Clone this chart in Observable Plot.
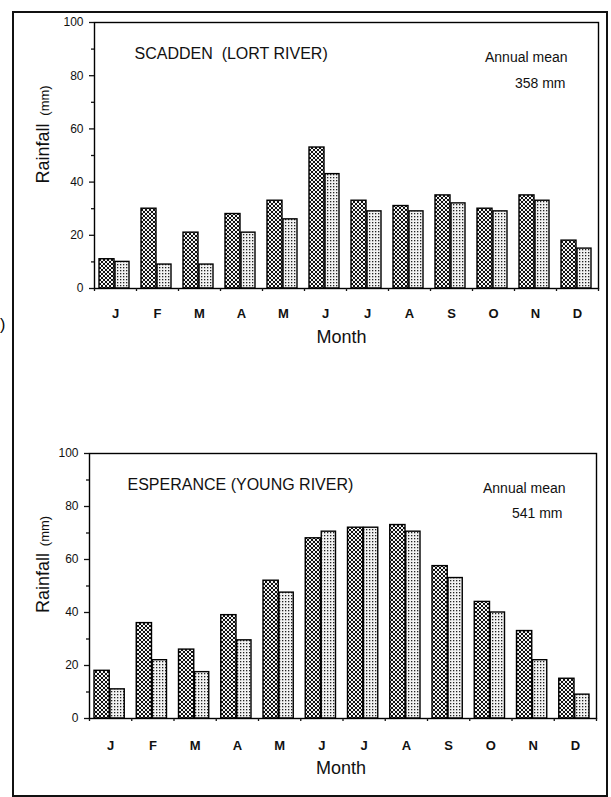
<!DOCTYPE html>
<html><head><meta charset="utf-8">
<script src="https://cdn.jsdelivr.net/npm/d3@7"></script>
<script src="https://cdn.jsdelivr.net/npm/@observablehq/plot@0.6"></script>
<style>
body{margin:0;background:#fff;font-family:"Liberation Sans",Arial,sans-serif;}
#page{position:relative;width:611px;height:797px;overflow:hidden;background:#fff;}
#border{position:absolute;left:12px;top:11px;width:592px;height:782px;border:2px solid #111;}
.chart{position:absolute;left:0;}
#frag{position:absolute;left:0px;top:316px;font-size:16px;}
</style></head><body>
<div id="page"><div id="border"></div><div id="frag">)</div>
<div id="top" class="chart" style="top:0"></div><div id="bot" class="chart" style="top:400px"></div></div>
<script>
const months = ["J","F","M","A","M","J","J","A","S","O","N","D"];
const scaddenSeriesA = [11,30,21,28,33,53,33,31,35,30,35,18];
const scaddenSeriesB = [10,9,9,21,26,43,29,29,32,29,33,15];
const esperanceSeriesA = [18,36,26,39,52,68,72,73,57.5,44,33,15];
const esperanceSeriesB = [11,22,17.5,29.5,47.5,70.5,72,70.5,53,40,22,9];
const yTicks = [0,20,40,60,80,100];
const yMinorTicks = [10,30,50,70,90];
const titles = ["SCADDEN  (LORT RIVER)", "ESPERANCE (YOUNG RIVER)"];
const annualLabel = "Annual mean";
const annualMeans = ["358 mm", "541 mm"];
const yLabelMain = "Rainfall";
const yLabelUnit = "(mm)";
const xLabel = "Month";

const FONT = "Liberation Sans, Arial, sans-serif";

function rows(values){ return values.map((v,i)=>({i, month: months[i], v})); }

function addPatterns(svg, id){
  const ns = "http://www.w3.org/2000/svg";
  const defs = document.createElementNS(ns,"defs");
  defs.innerHTML = `
  <pattern id="dark${id}" width="4" height="4" patternUnits="userSpaceOnUse">
    <rect width="4" height="4" fill="#f4f4f4"/>
    <path d="M0,0 L4,4 M4,0 L0,4" stroke="#111" stroke-width="1.0"/>
  </pattern>
  <pattern id="light${id}" width="3" height="3" patternUnits="userSpaceOnUse">
    <rect width="3" height="3" fill="#f2f2f2"/>
    <rect x="0" y="0" width="1.3" height="1.3" fill="#222"/>
  </pattern>`;
  svg.insertBefore(defs, svg.firstChild);
}

function drawChart(el, id, seriesA, seriesB, title, mean, m){
  const chart = Plot.plot({
    width: 611, height: m.height,
    marginLeft: m.left, marginRight: m.right, marginTop: m.top, marginBottom: m.bottom,
    style: {fontFamily: FONT, background: "transparent", color: "#111"},
    x: {type: "linear", domain: [0, 12], axis: null},
    y: {domain: [0, 100], axis: null},
    marks: [
      Plot.rectY(rows(seriesA), {x1: d => d.i, x2: d => d.i + 1, y: "v", insetLeft: 5, insetRight: 22,
        fill: `url(#dark${id})`, stroke: "#000", strokeWidth: 1.4}),
      Plot.rectY(rows(seriesB), {x1: d => d.i, x2: d => d.i + 1, y: "v", insetLeft: 21, insetRight: 7,
        fill: `url(#light${id})`, stroke: "#000", strokeWidth: 1.4}),
      Plot.frame({stroke: "#000", strokeWidth: 1.4}),
      Plot.axisY({ticks: yTicks, tickSize: 5, tickPadding: 6, fontSize: 12, label: null, strokeWidth: 1.3}),
      Plot.axisY({ticks: yMinorTicks, tickSize: 3, tickFormat: () => "", label: null, strokeWidth: 1.3}),
      Plot.axisX({ticks: d3.range(13), tickSize: 3, tickFormat: () => "", label: null, strokeWidth: 1.3}),
      Plot.text(rows(seriesA), {x: d => d.i + 0.5, y: 0, text: "month", dy: m.monthDy, fontSize: 13, fontWeight: "bold"}),
      Plot.text([xLabel], {frameAnchor: "bottom", dy: m.xLabelDy, dx: m.xLabelDx, fontSize: 18}),
      Plot.text([yLabelMain], {frameAnchor: "left", textAnchor: "middle", lineAnchor: "bottom", dx: -m.left + 48, dy: m.yMainDy, rotate: -90, fontSize: 18}),
      Plot.text([yLabelUnit], {frameAnchor: "left", textAnchor: "middle", lineAnchor: "bottom", dx: -m.left + 48, dy: m.yUnitDy, rotate: -90, fontSize: 13}),
      Plot.text([title], {frameAnchor: "top-left", dx: m.titleDx, dy: 25, fontSize: 16, textAnchor: "start"}),
      Plot.text([annualLabel], {frameAnchor: "top-right", dx: -31, dy: 30, fontSize: 14, textAnchor: "end"}),
      Plot.text([mean], {frameAnchor: "top-right", dx: m.meanDx, dy: m.meanDy, fontSize: 14, textAnchor: "end"})
    ]
  });
  addPatterns(chart, id);
  el.appendChild(chart);
}

drawChart(document.getElementById("top"), "A", scaddenSeriesA, scaddenSeriesB, titles[0], annualMeans[0],
  {height: 400, left: 94, right: 13, top: 22, bottom: 112, monthDy: 25, xLabelDy: 54, xLabelDx: -5,
   yMainDy: -2, yUnitDy: -55, titleDx: 40, meanDx: -33, meanDy: 56});
drawChart(document.getElementById("bot"), "B", esperanceSeriesA, esperanceSeriesB, titles[1], annualMeans[1],
  {height: 397, left: 89, right: 15, top: 53, bottom: 79, monthDy: 27, xLabelDy: 55, xLabelDx: -2,
   yMainDy: -3, yUnitDy: -55, titleDx: 38, meanDx: -34, meanDy: 55});
</script>
</body></html>
